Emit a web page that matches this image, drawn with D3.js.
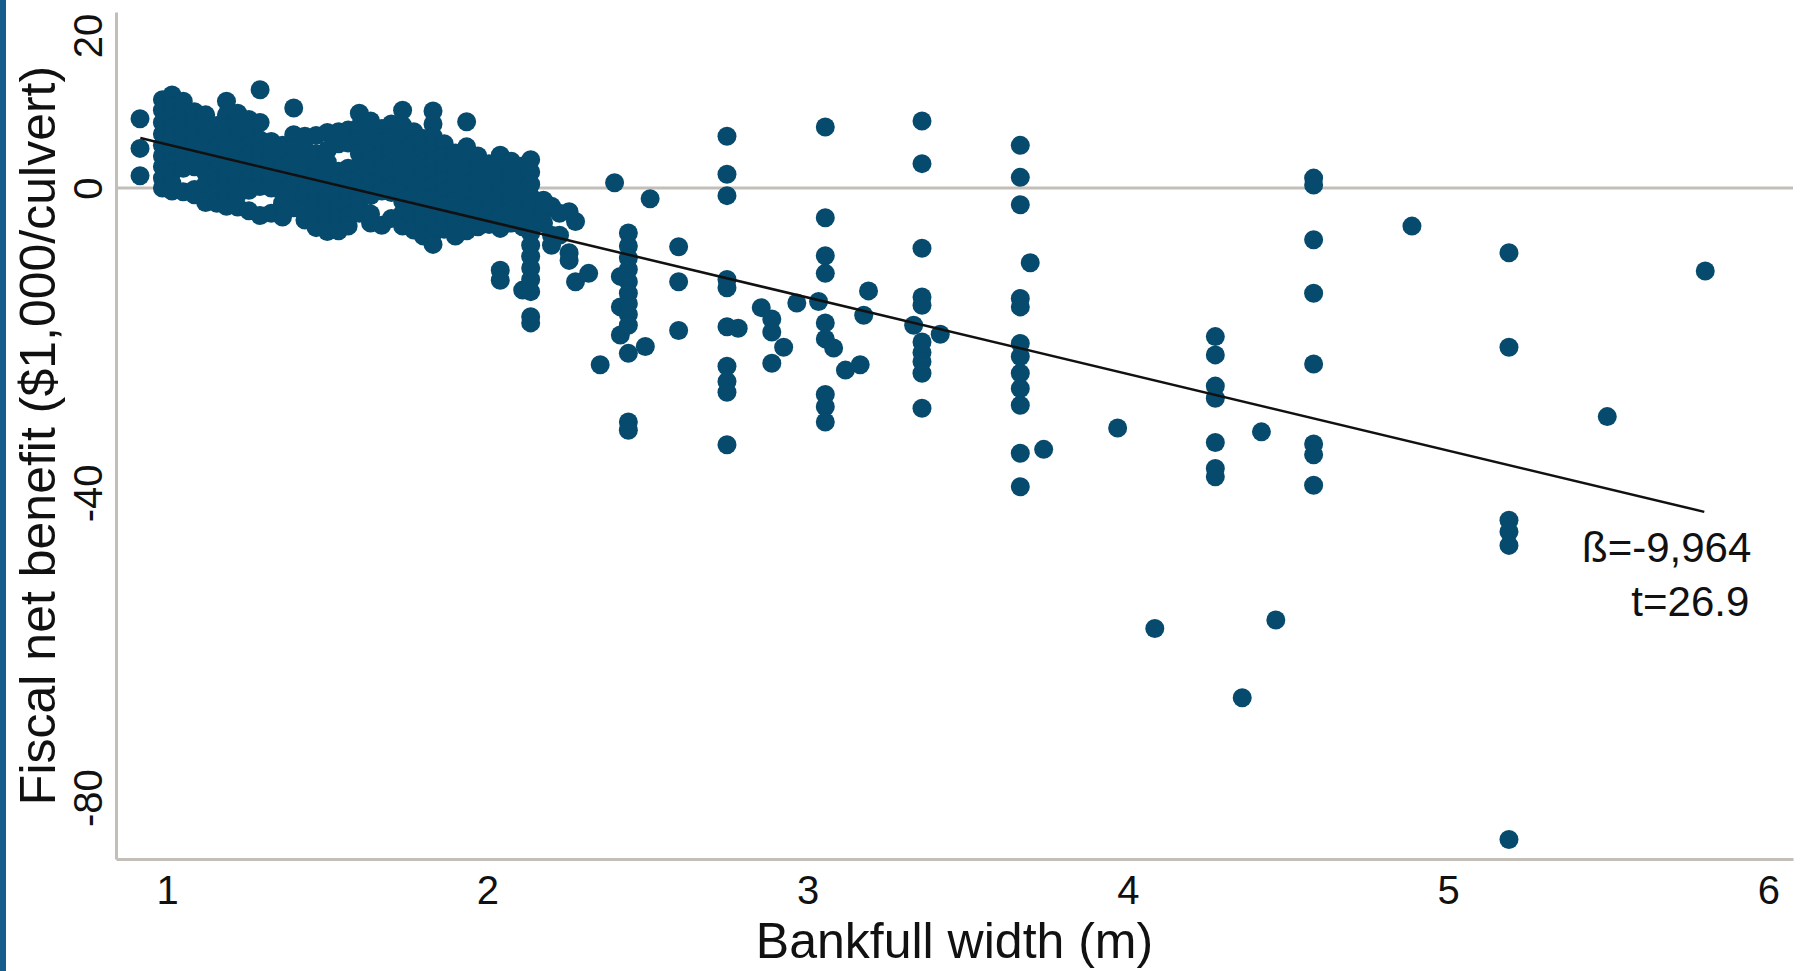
<!DOCTYPE html>
<html>
<head>
<meta charset="utf-8">
<script src="https://cdn.jsdelivr.net/npm/d3@7"></script>
<style>
  body { margin: 0; background: #ffffff; }
  svg { display: block; }
</style>
</head>
<body>
<div id="chart"></div>
<script>
// tick values of both axes
var xTicks = [1, 2, 3, 4, 5, 6];
var yTicks = [20, 0, -40, -80];
// range the axes cover
var xRange = [0.84, 6.077];
var yRange = [-88.06, 23.1];
// fitted line, end points [width, benefit]
var fitLine = [[0.916, 6.56], [5.80, -42.5]];
var fitLabels = ["ß=-9,964", "t=26.9"];
var xTitle = "Bankfull width (m)";
var yTitle = "Fiscal net benefit ($1,000/culvert)";

// culverts: [bankfull width (m), [net benefits ($1,000) at that width]]
var culverts = [
  [0.915, [9.1, 5.2, 1.6]],
  [0.985, [11.6, 10.2, 8.6, 7.1, 5.6, 4.2, 2.8, 1.3, 0.0]],
  [1.015, [12.2, 10.8, 9.3, 7.8, 6.3, 4.9, 3.4, 2.0, 0.6, -0.4]],
  [1.05, [11.4, 9.9, 8.4, 6.9, 5.5, 4.0, 2.6, -0.5]],
  [1.085, [10.0, 8.5, 7.0, 5.6, 4.1, 2.8, -0.2, -0.9]],
  [1.12, [9.6, 8.1, 6.6, 5.0, 3.5, 2.0, 0.5, -1.0, -1.9]],
  [1.155, [8.2, 6.8, 5.3, 3.8, 2.3, 0.9, -0.6, -2.0]],
  [1.185, [11.4, 9.6, 7.9, 6.2, 4.6, 3.1, 1.6, 0.1, -1.4, -2.4]],
  [1.22, [9.8, 8.3, 6.7, 5.2, 3.6, 2.2, 0.7, -0.8, -2.5]],
  [1.255, [9.0, 7.2, 5.6, 4.1, 2.6, 1.1, -0.3, -3.0]],
  [1.29, [12.9, 8.6, 6.3, 4.7, 3.2, 1.7, 0.2, -3.6]],
  [1.325, [6.1, 4.6, 3.0, 1.5, 0.0, -3.3]],
  [1.36, [5.6, 4.0, 2.5, 1.0, -0.6, -2.0, -3.8]],
  [1.395, [10.5, 7.0, 5.2, 3.6, 2.1, 0.5, -1.0, -2.6]],
  [1.43, [6.8, 5.1, 3.6, 2.0, 0.5, -1.1, -2.7, -4.2]],
  [1.465, [6.9, 4.5, 2.9, 1.4, -0.2, -1.8, -3.4, -5.2]],
  [1.5, [7.3, 5.0, 3.4, 1.8, 0.3, -1.3, -2.9, -4.4, -5.7]],
  [1.535, [7.4, 5.8, 2.2, 0.6, -0.9, -2.5, -4.0, -5.6]],
  [1.565, [7.6, 5.9, 2.6, 1.0, -0.5, -2.1, -3.7, -5.0]],
  [1.6, [9.8, 8.0, 6.2, 4.5, 2.9, 1.3, -0.2, -1.8, -3.3]],
  [1.635, [8.8, 7.0, 5.2, 3.6, 2.0, 0.5, -1.0, -3.4, -4.6]],
  [1.67, [7.8, 6.0, 4.3, 2.7, 1.1, -0.4, -4.9]],
  [1.7, [8.4, 6.6, 5.0, 3.4, 1.8, 0.2, -0.6, -4.0]],
  [1.735, [10.2, 8.2, 6.4, 4.8, 3.1, 1.5, -0.1, -1.7, -3.3, -5.0]],
  [1.77, [7.4, 5.8, 4.1, 2.5, 0.9, -0.7, -2.3, -3.9, -5.5]],
  [1.8, [6.5, 4.9, 3.3, 1.7, 0.1, -1.5, -3.1, -4.7, -6.3]],
  [1.83, [10.1, 8.4, 6.8, 5.1, 3.5, 1.9, 0.3, -1.3, -2.9, -4.5, -6.0, -7.4]],
  [1.865, [5.8, 4.2, 2.6, 1.0, -0.6, -2.2, -3.8, -5.4]],
  [1.9, [4.6, 3.0, 1.4, -0.2, -1.8, -3.4, -5.0, -6.3]],
  [1.935, [8.7, 5.4, 3.8, 2.2, 0.6, -1.0, -2.6, -4.2, -5.6]],
  [1.97, [4.2, 2.5, 0.9, -0.7, -2.3, -3.9, -5.1]],
  [2.005, [3.2, 1.6, 0.0, -1.6, -3.2, -4.8]],
  [2.04, [4.3, 2.7, 1.1, -0.5, -2.1, -3.7, -5.3, -10.8, -12.1]],
  [2.075, [3.5, 1.9, 0.3, -1.3, -2.9, -4.6]],
  [2.11, [2.9, 1.3, -0.3, -1.9, -3.5, -5.1, -13.4]],
  [2.135, [3.7, 2.1, 0.5, -1.1, -2.7, -4.3, -5.9, -7.5, -9.0, -10.5, -12.0, -13.6, -16.9, -17.7]],
  [2.175, [-1.6, -3.0, -4.6]],
  [2.2, [-2.4, -6.2, -7.5]],
  [2.225, [-3.3, -6.2]],
  [2.255, [-3.1, -8.5, -9.5]],
  [2.275, [-4.4, -12.3]],
  [2.316, [-11.2]],
  [2.352, [-23.2]],
  [2.397, [0.7]],
  [2.415, [-11.6, -15.6, -19.3]],
  [2.44, [-5.9, -7.6, -9.2, -10.7, -12.3, -13.8, -15.2, -16.6, -18.0, -21.7, -30.7, -31.8]],
  [2.493, [-20.8]],
  [2.508, [-1.4]],
  [2.597, [-7.7, -12.3, -18.7]],
  [2.748, [6.8, 1.8, -1.0, -12.0, -13.1, -18.2, -23.4, -25.4, -26.8, -33.7]],
  [2.783, [-18.4]],
  [2.855, [-15.7]],
  [2.888, [-17.2, -18.9, -23.0]],
  [2.925, [-20.9]],
  [2.966, [-15.1]],
  [3.034, [-14.9]],
  [3.055, [8.0, -3.9, -8.9, -11.2, -17.7, -19.8, -27.1, -28.7, -30.7]],
  [3.081, [-21.0]],
  [3.118, [-23.9]],
  [3.164, [-23.2]],
  [3.175, [-16.7]],
  [3.19, [-13.5]],
  [3.331, [-18.0]],
  [3.357, [8.8, 3.2, -7.9, -14.3, -15.4, -20.2, -21.6, -22.8, -24.3, -28.9]],
  [3.414, [-19.2]],
  [3.664, [5.6, 1.4, -2.2, -14.5, -15.6, -20.4, -22.1, -24.3, -26.3, -28.5, -34.8, -39.2]],
  [3.695, [-9.8]],
  [3.737, [-34.3]],
  [3.968, [-31.5]],
  [4.084, [-57.8]],
  [4.273, [-19.5, -21.9, -26.0, -27.6, -33.4, -36.8, -37.9]],
  [4.357, [-66.9]],
  [4.417, [-32.0]],
  [4.462, [-56.7]],
  [4.58, [1.3, 0.4, -6.8, -13.8, -23.1, -33.6, -35.0, -39.0]],
  [4.887, [-5.0]],
  [5.19, [-8.5, -20.9, -43.6, -45.1, -46.9, -85.5]],
  [5.497, [-30.0]],
  [5.803, [-10.9]]
];

// one point per culvert
var points = [];
culverts.forEach(function(c) {
  c[1].forEach(function(v) { points.push([c[0], v]); });
});

var width = 1805,
  height = 971;
var font = "'Liberation Sans', Arial, Helvetica, sans-serif";
var grey = "#c3bfb8";

var svg = d3.select("#chart")
  .append("svg")
  .attr("width", width)
  .attr("height", height);

// blue strip along the left edge
svg.append("rect")
  .attr("x", 0)
  .attr("y", 0)
  .attr("width", 6)
  .attr("height", height)
  .style("fill", "#175c8c");

var x = d3.scaleLinear().domain(xRange).range([116, 1793]);
var y = d3.scaleLinear().domain(yRange).range([859, 12]);

// line at zero
svg.append("line")
  .attr("x1", x(xRange[0]))
  .attr("x2", x(xRange[1]))
  .attr("y1", y(0))
  .attr("y2", y(0))
  .style("stroke", grey)
  .style("stroke-width", 3);

// x axis, no tick marks
var xAxis = svg.append("g")
  .attr("transform", "translate(0," + y(yRange[0]) + ")")
  .call(d3.axisBottom(x).tickValues(xTicks).tickSize(0)
    .tickFormat(function(d) { return d; }));
xAxis.select(".domain").style("stroke", grey).style("stroke-width", 3);
xAxis.selectAll("text")
  .attr("y", 45)
  .attr("dy", 0)
  .style("font-family", font)
  .style("font-size", "40px")
  .style("fill", "#111");

// y axis, labels turned
var yAxis = svg.append("g")
  .attr("transform", "translate(" + x(xRange[0]) + ",0)")
  .call(d3.axisLeft(y).tickValues(yTicks).tickSize(0)
    .tickFormat(function(d) { return d; }));
yAxis.select(".domain").style("stroke", grey).style("stroke-width", 3);
yAxis.selectAll("text")
  .attr("transform", "rotate(-90)")
  .attr("x", 0)
  .attr("y", -14)
  .attr("dy", 0)
  .attr("text-anchor", "middle")
  .style("font-family", font)
  .style("font-size", "40px")
  .style("fill", "#111");

// the culverts
svg.append("g")
  .selectAll("circle")
  .data(points)
  .enter()
  .append("circle")
  .attr("cx", function(d) { return x(d[0]); })
  .attr("cy", function(d) { return y(d[1]); })
  .attr("r", 9.5)
  .style("fill", "#064a6d");

// fitted line on top
var line = d3.line()
  .x(function(d) { return x(d[0]); })
  .y(function(d) { return y(d[1]); });
svg.append("path")
  .datum(fitLine)
  .attr("d", line)
  .style("fill", "none")
  .style("stroke", "#111")
  .style("stroke-width", 2.5);

// label under the end of the line
var end = fitLine[1];
svg.selectAll(".fit-label")
  .data(fitLabels)
  .enter()
  .append("text")
  .attr("class", "fit-label")
  .attr("x", function(d, i) { return x(end[0]) + 47 - i * 2; })
  .attr("y", function(d, i) { return y(end[1]) + 50 + i * 54; })
  .attr("text-anchor", "end")
  .style("font-family", font)
  .style("font-size", "42px")
  .style("fill", "#111")
  .text(function(d) { return d; });

// axis titles
svg.append("text")
  .attr("x", (x(xRange[0]) + x(xRange[1])) / 2)
  .attr("y", 958)
  .attr("text-anchor", "middle")
  .style("font-family", font)
  .style("font-size", "50px")
  .style("fill", "#111")
  .text(xTitle);

svg.append("text")
  .attr("transform", "translate(55," + (y(yRange[0]) + y(yRange[1])) / 2 + ") rotate(-90)")
  .attr("text-anchor", "middle")
  .style("font-family", font)
  .style("font-size", "50px")
  .style("fill", "#111")
  .text(yTitle);
</script>
</body>
</html>
